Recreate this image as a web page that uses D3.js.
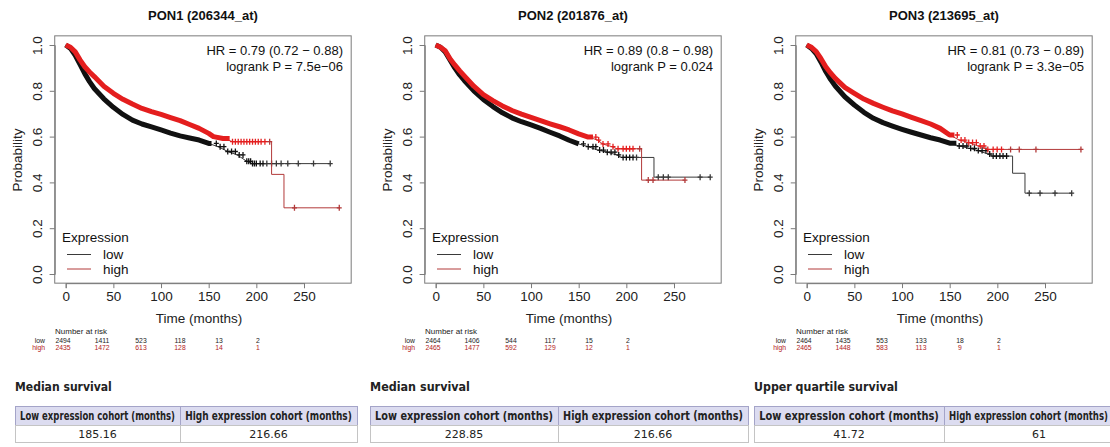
<!DOCTYPE html>
<html>
<head>
<meta charset="utf-8">
<script src="https://cdn.jsdelivr.net/npm/d3@7"></script>
<style>
  body { margin: 0; background: #fff; }
  svg { display: block; }
</style>
</head>
<body>
<script>
var w = 1110;
var h = 447;

// ---- data ----
var genes = ["PON1 (206344_at)", "PON2 (201876_at)", "PON3 (213695_at)"];
var hrText = ["HR = 0.79 (0.72 \u2212 0.88)", "HR = 0.89 (0.8 \u2212 0.98)", "HR = 0.81 (0.73 \u2212 0.89)"];
var pText = ["logrank P = 7.5e\u221206", "logrank P = 0.024", "logrank P = 3.3e\u221205"];
var xTicks = [0, 50, 100, 150, 200, 250];
var yTicks = [0, 0.2, 0.4, 0.6, 0.8, 1.0];

var riskTimes = [0, 50, 100, 150, 200, 250];
var riskLow = [[2494, 1411, 523, 118, 13, 2], [2464, 1406, 544, 117, 15, 2], [2464, 1435, 553, 133, 18, 2]];
var riskHigh = [[2435, 1472, 613, 128, 14, 1], [2465, 1477, 592, 129, 12, 1], [2465, 1448, 583, 113, 9, 1]];

var tableTitles = ["Median survival", "Median survival", "Upper quartile survival"];
var colHeads = ["Low expression cohort (months)", "High expression cohort (months)"];
var lowCohort = ["185.16", "228.85", "41.72"];
var highCohort = ["216.66", "216.66", "61"];

// survival curves [months, probability]
var pon1Low = [[0,1],[5,0.985],[10,0.955],[15,0.915],[20,0.875],[25,0.84],[30,0.81],[40,0.765],[50,0.728],[60,0.697],[70,0.672],[80,0.655],[90,0.642],[100,0.629],[110,0.615],[120,0.603],[130,0.594],[140,0.585],[150,0.57],[160,0.556],[170,0.535],[180,0.52],[190,0.492],[195,0.482],[278,0.482]];
var pon1High = [[0,1],[5,0.99],[10,0.97],[15,0.935],[20,0.905],[25,0.882],[30,0.862],[40,0.82],[50,0.789],[60,0.763],[70,0.742],[80,0.723],[90,0.709],[100,0.697],[110,0.683],[120,0.67],[130,0.653],[140,0.636],[150,0.614],[155,0.6],[165,0.592],[175,0.578],[216,0.578],[216,0.435],[229,0.435],[229,0.289],[288,0.289]];
var pon2Low = [[0,1],[5,0.99],[10,0.97],[15,0.935],[20,0.9],[25,0.87],[30,0.845],[40,0.8],[50,0.762],[60,0.731],[70,0.704],[80,0.682],[90,0.665],[100,0.651],[110,0.636],[120,0.619],[130,0.603],[140,0.584],[150,0.568],[160,0.556],[170,0.541],[180,0.532],[190,0.52],[195,0.509],[229,0.509],[229,0.423],[288,0.423]];
var pon2High = [[0,1],[5,0.99],[10,0.975],[15,0.94],[20,0.913],[25,0.888],[30,0.865],[40,0.82],[50,0.783],[60,0.757],[70,0.734],[80,0.714],[90,0.698],[100,0.684],[110,0.67],[120,0.656],[130,0.643],[140,0.629],[150,0.612],[160,0.598],[170,0.585],[175,0.568],[185,0.556],[190,0.547],[216,0.547],[216,0.41],[261,0.41]];
var pon3Low = [[0,1],[5,0.985],[10,0.962],[15,0.925],[20,0.884],[25,0.85],[30,0.821],[40,0.774],[50,0.738],[60,0.706],[70,0.68],[80,0.661],[90,0.646],[100,0.632],[110,0.619],[120,0.607],[130,0.595],[140,0.585],[150,0.571],[160,0.559],[170,0.549],[180,0.539],[190,0.524],[195,0.515],[216,0.515],[216,0.44],[229,0.44],[229,0.353],[278,0.353]];
var pon3High = [[0,1],[5,0.99],[10,0.971],[15,0.94],[20,0.905],[25,0.878],[30,0.854],[40,0.815],[50,0.789],[60,0.764],[70,0.745],[80,0.728],[90,0.712],[100,0.699],[110,0.684],[120,0.67],[130,0.655],[140,0.636],[150,0.607],[160,0.585],[170,0.574],[180,0.559],[190,0.544],[288,0.544]];

// where the censor marks pile up into a solid band (months)
var denseLow = [153, 150, 157];
var denseHigh = [172, 165, 155];

// single censor marks visible after the band (months)
var pon1LowCens = [158,162,166,170,174,178,182,186,190,192,194,196,198,200,204,207,211,216,221,226,233,244,260,277.5];
var pon1HighCens = [175,178,181,184,187,190,193,196,199,202,205,209,214,240,287];
var pon2LowCens = [155,160,165,168,172,176,180,184,188,192,196.6,200,203.5,207,210.7,233.5,238.8,244,277.4,288];
var pon2HighCens = [168,171,175.5,180.8,186,191.3,196.6,200,203.5,207,214,223,228,261.5];
var pon3LowCens = [160,164,168,172,176,180,184,188,192,195.6,199,202.7,206,209.7,233.5,244.8,260.5,278];
var pon3HighCens = [158,162,166,170,174,178,182,186,190,195.6,199.8,204.4,213.9,223,240.5,287.7];

var lowCurves = [pon1Low, pon2Low, pon3Low];
var highCurves = [pon1High, pon2High, pon3High];
var lowCens = [pon1LowCens, pon2LowCens, pon3LowCens];
var highCens = [pon1HighCens, pon2HighCens, pon3HighCens];

// ---- layout ----
var offsets = [0, 370, 741];
var tableLeft = [15, 370, 754];
var tableSplit = [180, 558, 944];
var tableRight = [357, 748, 1134];

var lowBand = "#111", lowLine = "#3a3a3a";
var highBand = "#e41e1e", highLine = "#b23a3a";
var boxCol = "#7a7a7a";
var plotFont = "'Liberation Sans', Arial, Helvetica, sans-serif";
var tableFont = "'DejaVu Sans', Verdana, sans-serif";

var svg = d3.select("body").append("svg")
  .attr("width", w)
  .attr("height", h);

// survival at time t from a point list (last value at or before t)
var survAt = (pts, t) => {
  var v = pts[0][1];
  pts.forEach((p) => { if (p[0] <= t) v = p[1]; });
  return v;
};

// squeeze a text horizontally so it is `len` px wide (the table image is squashed)
var squeeze = (sel, cx, cy, len, anchor) => {
  var natural = sel.node().getComputedTextLength();
  sel.attr("x", 0).attr("y", 0)
    .attr("text-anchor", anchor)
    .attr("transform", "translate(" + cx + "," + cy + ") scale(" + (len / natural) + ",1)");
};

genes.forEach((gene, i) => {
  var ox = offsets[i];
  var g = svg.append("g");

  var x = d3.scaleLinear().domain([0, 250]).range([ox + 65.7, ox + 304]);
  var y = d3.scaleLinear().domain([0, 1]).range([274, 45]);
  var xr = d3.scaleLinear().domain([0, 250]).range([ox + 63, ox + 258]);

  // title
  g.append("text")
    .attr("x", (x(-11.5) + x(299.5)) / 2)
    .attr("y", 20)
    .attr("text-anchor", "middle")
    .attr("font-family", plotFont)
    .attr("font-weight", "bold")
    .attr("font-size", 13)
    .attr("fill", "#111")
    .text(gene);

  // plot box
  g.append("rect")
    .attr("x", x(-11.5))
    .attr("y", y(1.04))
    .attr("width", x(299.5) - x(-11.5))
    .attr("height", y(-0.04) - y(1.04))
    .attr("fill", "none")
    .attr("stroke", boxCol)
    .attr("stroke-width", 1);

  // axes, R style: line on the box, ticks outward
  var xAxis = d3.axisBottom(x).tickValues(xTicks).tickSize(5).tickPadding(3);
  var gx = g.append("g")
    .attr("transform", "translate(0," + y(-0.04) + ")")
    .call(xAxis);
  gx.select(".domain").attr("stroke", boxCol);
  gx.selectAll(".tick line").attr("stroke", boxCol);
  gx.selectAll(".tick text")
    .attr("font-family", plotFont)
    .attr("font-size", 13.5)
    .attr("fill", "#222");

  var yAxis = d3.axisLeft(y).tickValues(yTicks).tickSize(5).tickFormat(d3.format(".1f"));
  var gy = g.append("g")
    .attr("transform", "translate(" + x(-11.5) + ",0)")
    .call(yAxis);
  gy.select(".domain").attr("stroke", boxCol);
  gy.selectAll(".tick line").attr("stroke", boxCol);
  gy.selectAll(".tick text")
    .attr("x", null).attr("dy", null)
    .attr("transform", "translate(-13,0) rotate(-90)")
    .attr("text-anchor", "middle")
    .attr("font-family", plotFont)
    .attr("font-size", 13.5)
    .attr("fill", "#222");

  // axis labels
  g.append("text")
    .attr("transform", "translate(" + (ox + 22) + "," + 160 + ") rotate(-90)")
    .attr("text-anchor", "middle")
    .attr("font-family", plotFont)
    .attr("font-size", 13.5)
    .attr("fill", "#222")
    .text("Probability");
  g.append("text")
    .attr("x", ox + 199)
    .attr("y", 323)
    .attr("text-anchor", "middle")
    .attr("font-family", plotFont)
    .attr("font-size", 13.5)
    .attr("fill", "#222")
    .text("Time (months)");

  // curves
  var line = d3.line().x((d) => x(d[0])).y((d) => y(d[1]));
  var series = [
    { pts: lowCurves[i], cens: lowCens[i], dense: denseLow[i], band: lowBand, col: lowLine },
    { pts: highCurves[i], cens: highCens[i], dense: denseHigh[i], band: highBand, col: highLine }
  ];
  series.forEach((s) => {
    g.append("path")
      .attr("d", line(s.pts))
      .attr("fill", "none")
      .attr("stroke", s.col)
      .attr("stroke-width", 1);
    var bandPts = s.pts.filter((d) => d[0] <= s.dense);
    bandPts.push([s.dense, survAt(s.pts, s.dense)]);
    g.append("path")
      .attr("d", line(bandPts))
      .attr("fill", "none")
      .attr("stroke", s.band)
      .attr("stroke-width", 5)
      .attr("stroke-linejoin", "round");
    g.selectAll(null)
      .data(s.cens)
      .enter()
      .append("path")
      .attr("d", (t) => {
        var cx = x(t), cy = y(survAt(s.pts, t));
        return "M" + (cx - 2.5) + "," + cy + "H" + (cx + 2.5) + "M" + cx + "," + (cy - 3) + "V" + (cy + 3);
      })
      .attr("stroke", (t) => t <= 210 ? s.band : s.col)
      .attr("stroke-width", 1.3);
  });

  // HR text
  g.append("text")
    .attr("x", ox + 343)
    .attr("y", 55)
    .attr("text-anchor", "end")
    .attr("font-family", plotFont)
    .attr("font-size", 13)
    .attr("fill", "#111")
    .text(hrText[i]);
  g.append("text")
    .attr("x", ox + 343)
    .attr("y", 71)
    .attr("text-anchor", "end")
    .attr("font-family", plotFont)
    .attr("font-size", 13)
    .attr("fill", "#111")
    .text(pText[i]);

  // legend
  g.append("text")
    .attr("x", ox + 62)
    .attr("y", 242)
    .attr("font-family", plotFont)
    .attr("font-size", 13.5)
    .attr("fill", "#111")
    .text("Expression");
  [["low", lowLine, 254.5], ["high", highLine, 269]].forEach((l) => {
    g.append("line")
      .attr("x1", ox + 67).attr("x2", ox + 91)
      .attr("y1", l[2]).attr("y2", l[2])
      .attr("stroke", l[1])
      .attr("stroke-width", 1);
    g.append("text")
      .attr("x", ox + 103)
      .attr("y", l[2] + 4.5)
      .attr("font-family", plotFont)
      .attr("font-size", 13.5)
      .attr("fill", "#111")
      .text(l[0]);
  });

  // number at risk
  g.append("text")
    .attr("x", ox + 55)
    .attr("y", 333.5)
    .attr("font-family", plotFont)
    .attr("font-size", 8)
    .attr("fill", "#222")
    .text("Number at risk");
  [["low", riskLow[i], "#222", 343], ["high", riskHigh[i], "#b22222", 349.5]].forEach((r) => {
    g.append("text")
      .attr("x", ox + 45)
      .attr("y", r[3])
      .attr("text-anchor", "end")
      .attr("font-family", plotFont)
      .attr("font-size", 6.8)
      .attr("fill", r[2])
      .text(r[0]);
    g.selectAll(null)
      .data(r[1])
      .enter()
      .append("text")
      .attr("x", (d, k) => xr(riskTimes[k]))
      .attr("y", r[3])
      .attr("text-anchor", "middle")
      .attr("font-family", plotFont)
      .attr("font-size", 6.8)
      .attr("fill", r[2])
      .text((d) => d);
  });

  // survival table
  var tl = tableLeft[i], ts = tableSplit[i], tr = tableRight[i];
  var heading = g.append("text")
    .attr("font-family", tableFont)
    .attr("font-weight", "bold")
    .attr("font-size", 12.5)
    .attr("fill", "#222")
    .text(tableTitles[i]);
  squeeze(heading, tl, 390.5, i == 2 ? 144 : (i == 0 ? 97 : 100), "start");

  var cols = [[tl, ts], [ts, tr]];
  var vals = [lowCohort[i], highCohort[i]];
  cols.forEach((c, k) => {
    g.append("rect")
      .attr("x", c[0] + 0.5).attr("y", 406.5)
      .attr("width", c[1] - c[0]).attr("height", 19)
      .attr("fill", "#dcdcf0")
      .attr("stroke", "#a4a4c8");
    g.append("rect")
      .attr("x", c[0] + 0.5).attr("y", 425.5)
      .attr("width", c[1] - c[0]).attr("height", 17)
      .attr("fill", "#fff")
      .attr("stroke", "#c4c4c4");
    // header text, kept inside the window where the cell runs off the edge
    var hl = c[0] + 5, hr = Math.min(c[1] - 5, w - 2);
    var head = g.append("text")
      .attr("font-family", tableFont)
      .attr("font-weight", "bold")
      .attr("font-size", 11.5)
      .attr("fill", "#222")
      .text(colHeads[k]);
    squeeze(head, (hl + hr) / 2, 420, hr - hl, "middle");
    g.append("text")
      .attr("x", (c[0] + c[1]) / 2)
      .attr("y", 438)
      .attr("text-anchor", "middle")
      .attr("font-family", tableFont)
      .attr("font-size", 11)
      .attr("fill", "#222")
      .text(vals[k]);
  });
});
</script>
</body>
</html>
